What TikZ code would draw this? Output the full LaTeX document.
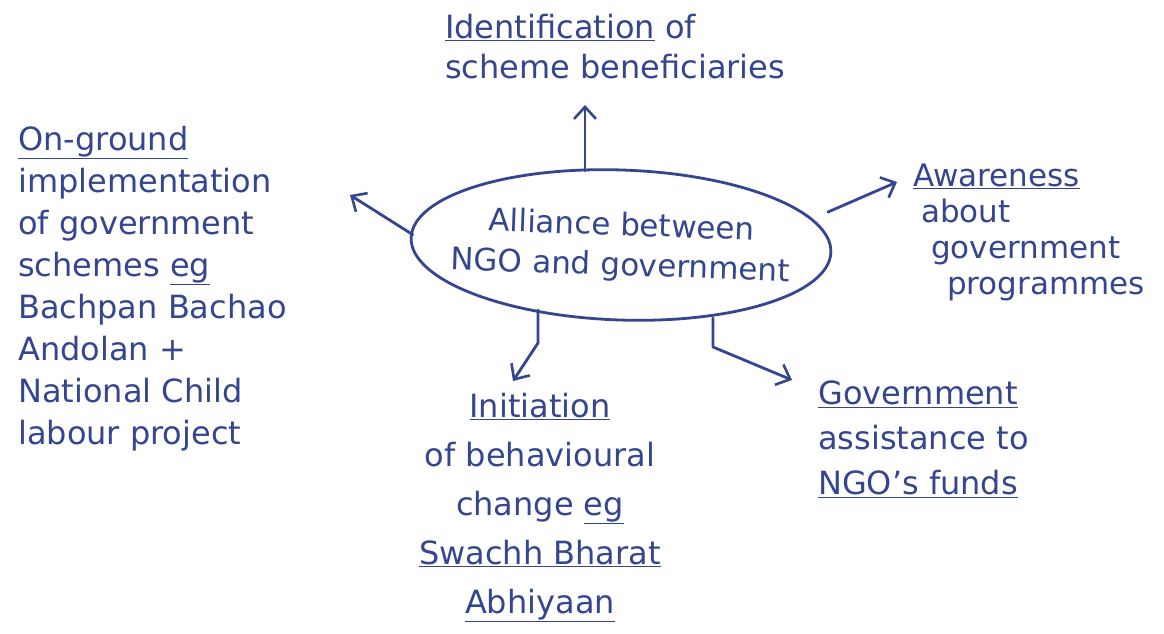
\documentclass[tikz,border=0pt]{standalone}
\usepackage{fontspec}
\setmainfont{DejaVu Sans}
\usetikzlibrary{shapes.geometric,arrows.meta}
\definecolor{ink}{HTML}{34468F}
\tikzset{
  ink/.style={draw=ink,line width=2.8pt,line cap=round,line join=round},
  arr/.style={ink,-{Straight Barb[length=12pt,width=22pt,line width=2.6pt]}},
  txt/.style={text=ink,inner sep=0pt,font=\fontsize{32}{40}\selectfont},
}
\begin{document}
\begin{tikzpicture}[x=1pt,y=-1pt]
\useasboundingbox (0,0) rectangle (1164,634);
\fill[white] (0,0) rectangle (1164,634);

% centre
\node[ellipse,ink,minimum width=420pt,minimum height=150pt,inner sep=0pt,rotate=-2] (c) at (621,245) {};
\node[txt,align=center,rotate=-2,font=\fontsize{31}{40}\selectfont] (ctext) at ([yshift=-2pt]c.center)
  {Alliance between\\NGO and government};

% top
\node[txt,anchor=north west,align=left] (top) at (445,14)
  {\underline{Identification} of\\scheme beneficiaries};
\coordinate (topend) at (585,105);
\draw[arr] (585,171) -- (topend);

% left
\node[txt,anchor=north west,align=left,font=\fontsize{32}{42}\selectfont] (left) at (18,126)
  {\underline{On-ground}\\implementation\\of government\\schemes \underline{eg}\\Bachpan Bachao\\Andolan +\\National Child\\labour project};
\coordinate (leftend) at (350,195);
\draw[arr] (c.west) ++(3,-3) coordinate (lstart) -- (leftend);

% right top
\node[txt,anchor=north west,align=left,font=\fontsize{31}{36}\selectfont] (aw) at (913,164)
  {\underline{Awareness}\\\hspace*{8pt}about\\\hspace*{18pt}government\\\hspace*{34pt}programmes};
\coordinate (awend) at (897,182);
\draw[arr] (828,212) -- (awend);

% right bottom
\node[txt,anchor=north west,align=left,font=\fontsize{32}{45}\selectfont] (gov) at (818,381)
  {\underline{Government}\\assistance to\\\underline{NGO's funds}};
\coordinate (govbend) at (713,347);
\coordinate (govend) at (792,380);
\draw[arr] (713,318) -- (govbend) -- (govend);

% bottom
\node[txt,anchor=north,align=center,font=\fontsize{32}{49}\selectfont] (bot) at (540,393)
  {\underline{Initiation}\\of behavioural\\change \underline{eg}\\\underline{Swachh Bharat}\\\underline{Abhiyaan}};
\coordinate (botbend) at (538,343);
\coordinate (botend) at (513,381);
\draw[arr] (538,310) -- (botbend) -- (botend);
\end{tikzpicture}
\end{document}
